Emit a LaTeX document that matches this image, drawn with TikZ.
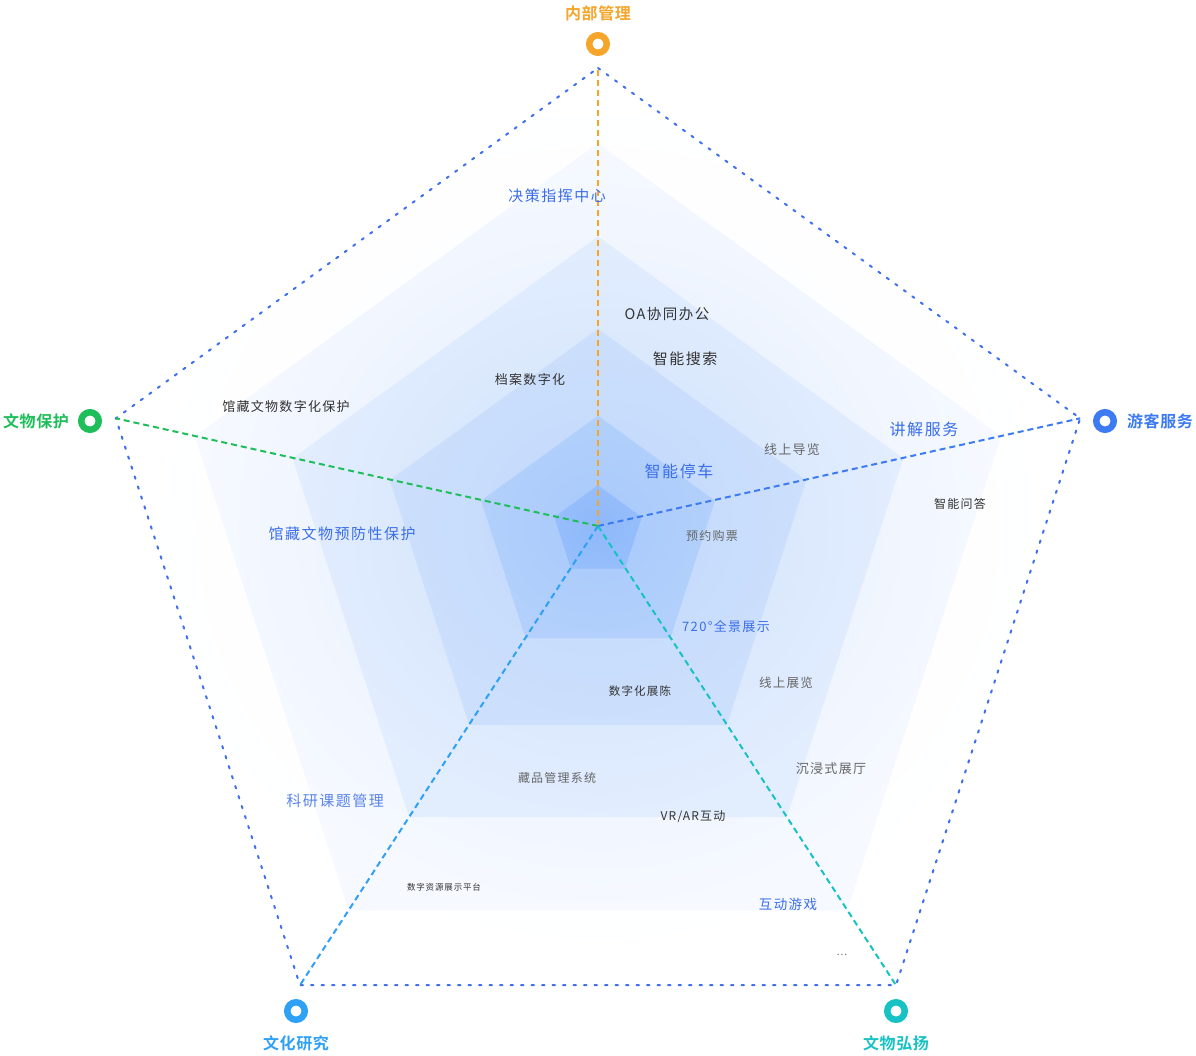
\documentclass[tikz,border=0pt]{standalone}
\usepackage{fontspec}
\setmainfont{Noto Sans CJK SC}
\newfontfamily\hei[LetterSpace=10]{Noto Sans CJK SC}
\newfontfamily\heib[LetterSpace=4]{Noto Sans CJK SC Bold}
\usetikzlibrary{calc}

\definecolor{cOrange}{HTML}{F5A52A}
\definecolor{cGreen}{HTML}{1EBE5A}
\definecolor{cBlue}{HTML}{3D7BF2}
\definecolor{cSky}{HTML}{2EA0F6}
\definecolor{cTeal}{HTML}{17C2C4}
\definecolor{cLine}{HTML}{3F6FEF}
\definecolor{cTxtBlue}{HTML}{3B6EE8}
\definecolor{cTxtSoft}{HTML}{5B85EC}
\definecolor{cDark}{HTML}{333333}
\definecolor{cGray}{HTML}{666666}
% bands, from the outside in
\definecolor{b0i}{HTML}{FAFCFF}\definecolor{b0o}{HTML}{FFFFFF}
\definecolor{b1i}{HTML}{E0EBFD}\definecolor{b1o}{HTML}{F6F9FF}
\definecolor{b2i}{HTML}{D0E2FC}\definecolor{b2o}{HTML}{E2EDFE}
\definecolor{b3i}{HTML}{C2D8FC}\definecolor{b3o}{HTML}{CCDFFC}
\definecolor{b4i}{HTML}{A8C9FB}\definecolor{b4o}{HTML}{B2D0FB}
\definecolor{b5i}{HTML}{8EB8FA}\definecolor{b5o}{HTML}{96BEFB}

\begin{document}
\begin{tikzpicture}[x=1pt,y=-1pt,
    outline/.style={cLine,line width=2pt,dash pattern=on 2.5pt off 8pt,line cap=round},
    axis/.style={line width=2pt,dash pattern=on 6pt off 4pt},
    ring/.style={circle,draw=#1,fill=white,line width=6.5pt,minimum size=17.5pt,inner sep=0pt},
    cat/.style={inner sep=0pt,text=#1,font=\heib\fontsize{16}{16}\selectfont},
    lbl/.style 2 args={inner sep=0pt,text=#2,font=\hei\fontsize{#1}{#1}\selectfont}]
    \fill[white] (0,0) rectangle (1196,1055);
    \useasboundingbox (0,0) rectangle (1196,1055);

    % stacked pentagons
    \foreach \r/\ci/\co in {507/b0i/b0o,424/b1i/b1o,321/b2i/b2o,219/b3i/b3o,123/b4i/b4o,46/b5i/b5o}
        \shade[inner color=\ci,outer color=\co,shift={(598,{527+0.095*\r})}]
            (-90:\r) -- (-18:\r) -- (54:\r) -- (126:\r) -- (198:\r) -- cycle;

    \draw[outline,shift={(598,575)}] (-90:507) coordinate (vT) -- (-18:507) coordinate (vR)
        -- (54:507) coordinate (vBR) -- (126:507) coordinate (vBL) -- (198:507) coordinate (vL) -- cycle;

    \coordinate (O) at (598,526);
    \draw[axis,cOrange] (O) -- (vT);
    \draw[axis,cGreen] (O) -- (vL);
    \draw[axis,cBlue] (O) -- (vR);
    \draw[axis,cSky] (O) -- (vBL);
    \draw[axis,cTeal] (O) -- (vBR);

    \node[ring=cOrange] (rT) at (598,44) {};
    \node[ring=cGreen] (rL) at (90,421) {};
    \node[ring=cBlue] (rR) at (1105,421) {};
    \node[ring=cSky] (rBL) at (296,1011) {};
    \node[ring=cTeal] (rBR) at (896,1011) {};

    \node[cat=cOrange] (lT) at (598,13) {内部管理};
    \node[cat=cGreen] (lL) at (36,421) {文物保护};
    \node[cat=cBlue] (lR) at (1160,421) {游客服务};
    \node[cat=cSky] (lBL) at (296,1043) {文化研究};
    \node[cat=cTeal] (lBR) at (896,1043) {文物弘扬};

    \node[lbl={15}{cTxtBlue}] (tDecide) at (557,196) {决策指挥中心};
    \node[lbl={14.5}{cDark}] (tOA) at (667,314) {OA协同办公};
    \node[lbl={15}{cDark}] (tSearch) at (685,359) {智能搜索};
    \node[lbl={13}{cDark}] (tArchive) at (530,380) {档案数字化};
    \node[lbl={13}{cDark}] (tDigiProt) at (286,407) {馆藏文物数字化保护};
    \node[lbl={16}{cTxtBlue}] (tGuide) at (924,429) {讲解服务};
    \node[lbl={13}{cGray}] (tOnlineTour) at (792,450) {线上导览};
    \node[lbl={16}{cTxtBlue}] (tParking) at (679,471) {智能停车};
    \node[lbl={12}{cDark}] (tQA) at (960,504) {智能问答};
    \node[lbl={12}{cGray}] (tTicket) at (712,536) {预约购票};
    \node[lbl={15}{cTxtBlue}] (tPrevent) at (342,534) {馆藏文物预防性保护};
    \node[lbl={13}{cTxtBlue}] (tPano) at (726,626) {720°全景展示};
    \node[lbl={11.5}{cDark}] (tDisplay) at (640,691) {数字化展陈};
    \node[lbl={12.5}{cGray}] (tOnlineExpo) at (786,683) {线上展览};
    \node[lbl={13}{cGray}] (tImmersive) at (831,769) {沉浸式展厅};
    \node[lbl={12}{cGray}] (tCollection) at (557,778) {藏品管理系统};
    \node[lbl={12}{cDark}] (tVR) at (693,817) {VR/AR互动};
    \node[lbl={15}{cTxtSoft}] (tResearch) at (335,801) {科研课题管理};
    \node[lbl={8.5}{cDark}] (tResource) at (444,887) {数字资源展示平台};
    \node[lbl={13.5}{cTxtBlue}] (tGame) at (788,904) {互动游戏};
    \node[lbl={10}{cGray}] (tMore) at (842,955) {...};
\end{tikzpicture}
\end{document}
